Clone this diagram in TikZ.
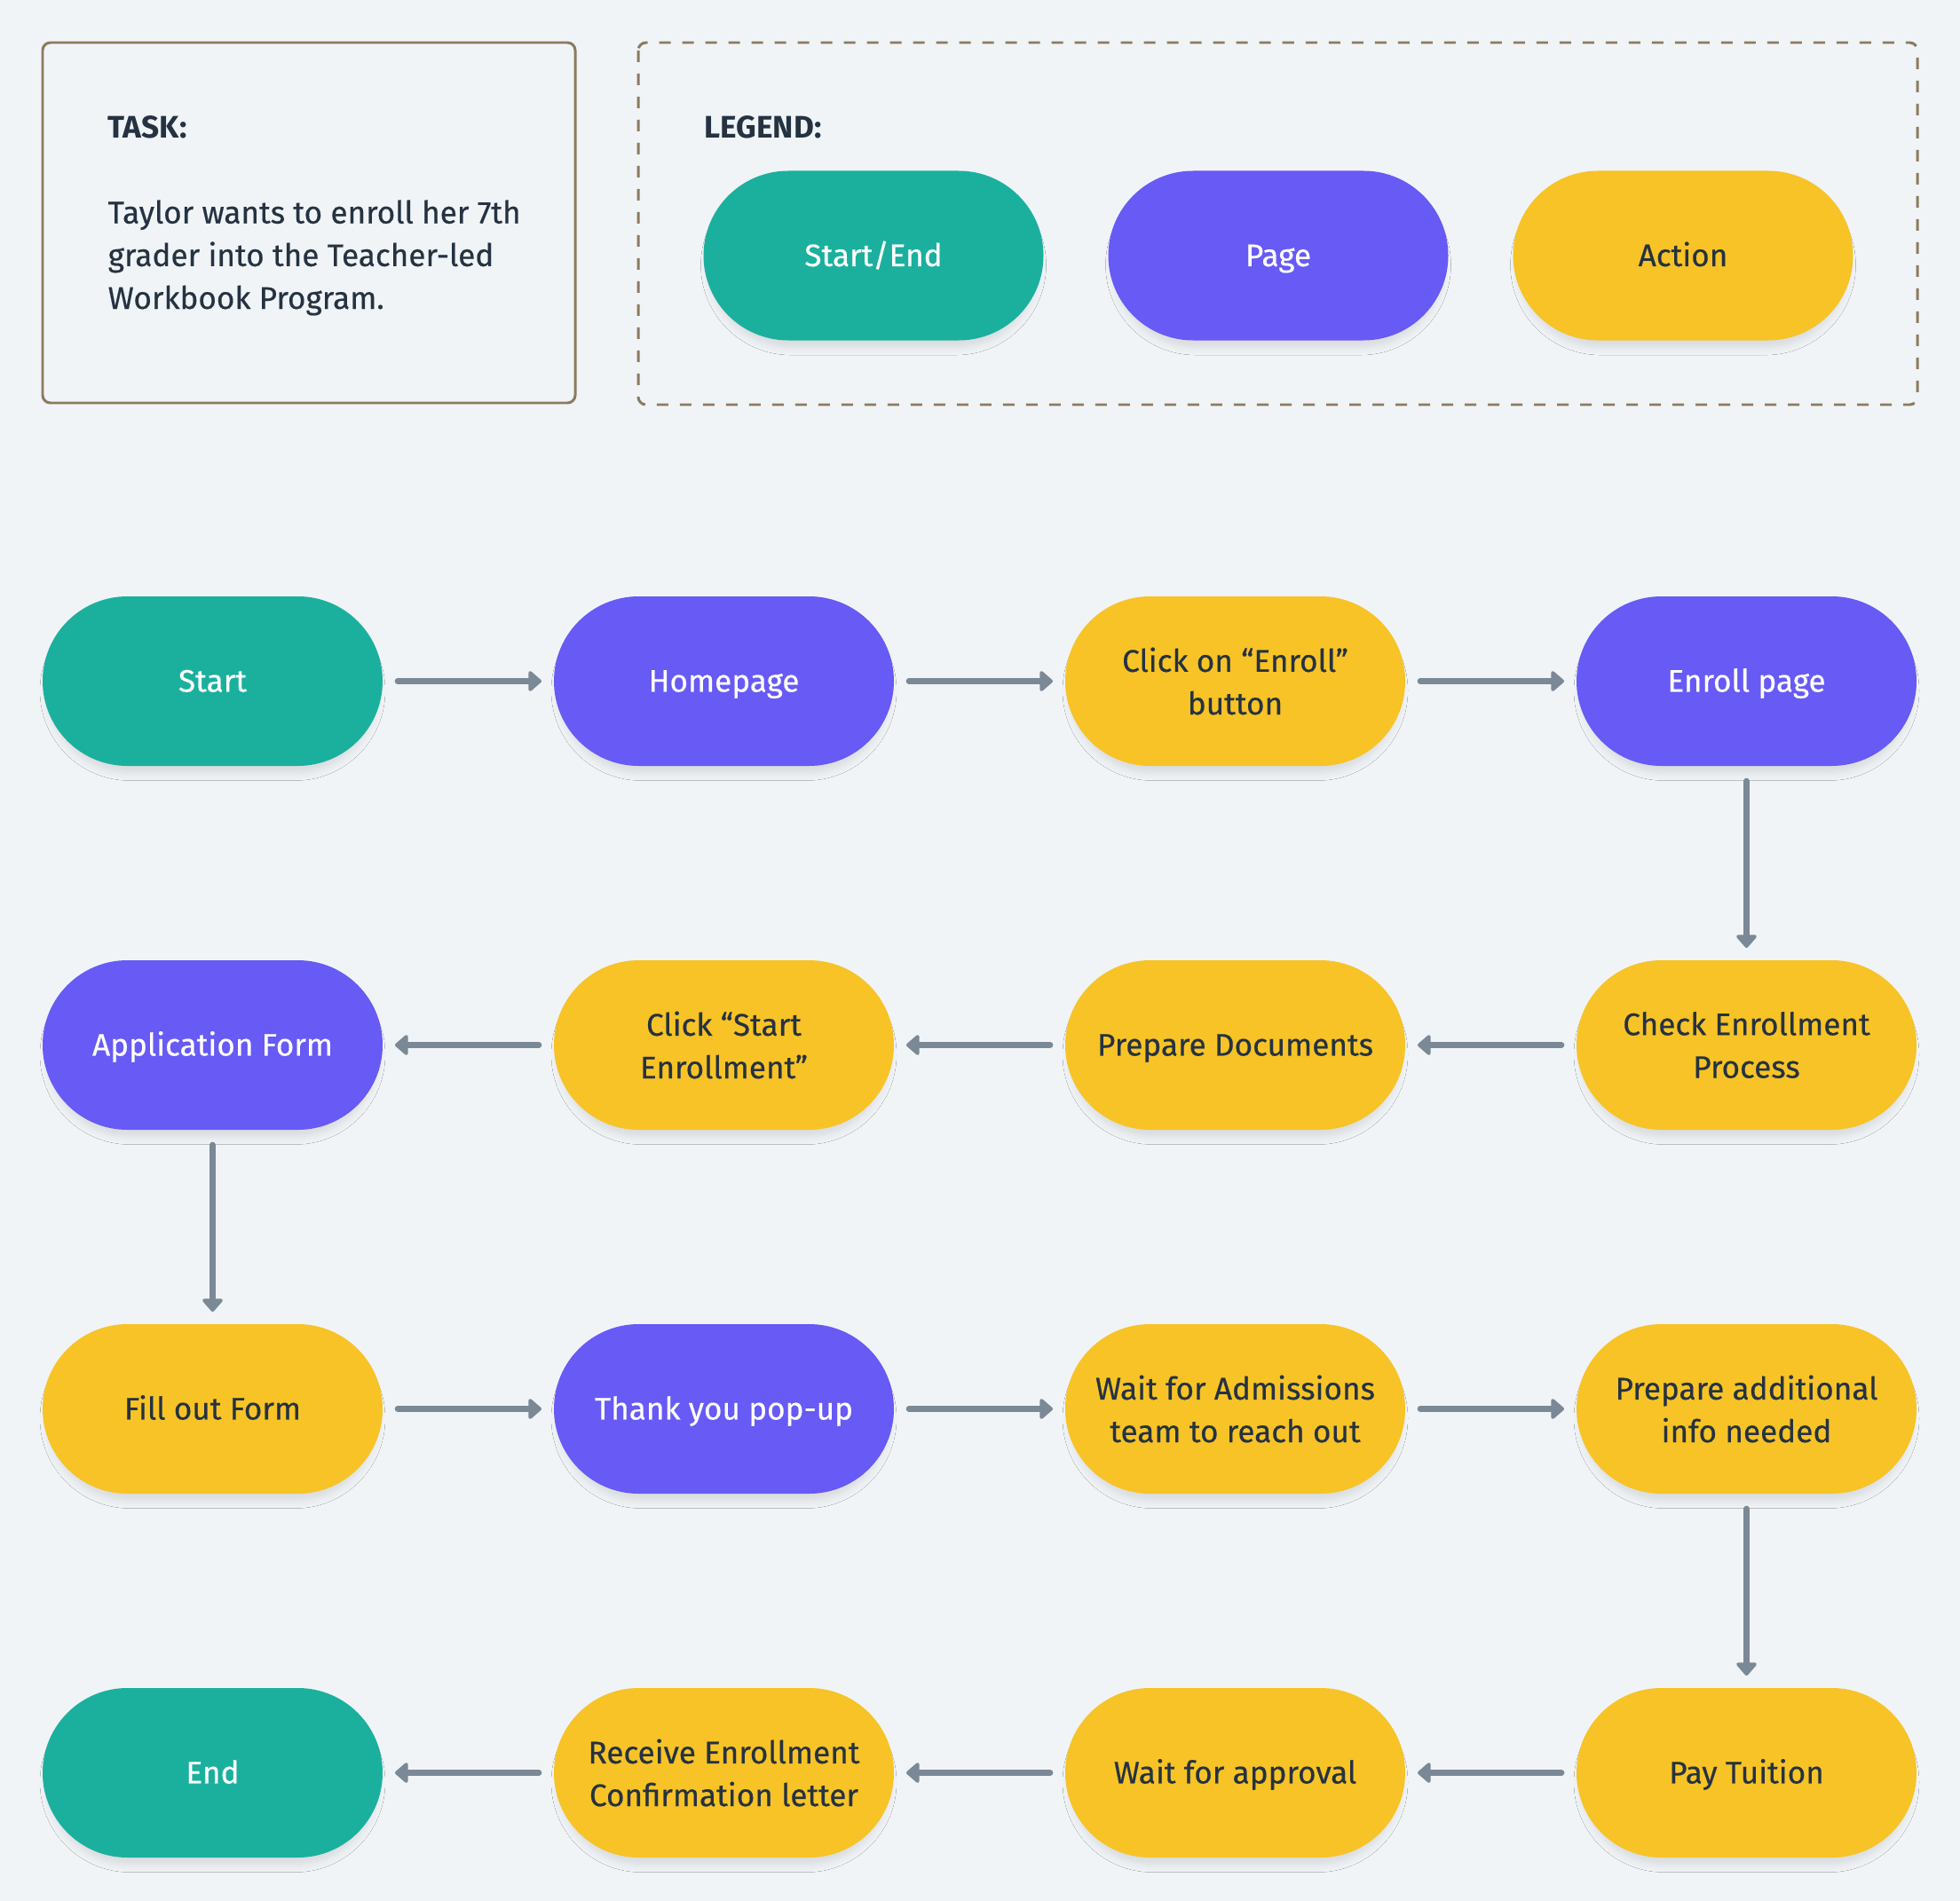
\documentclass[tikz,border=0pt]{standalone}
\usepackage{fontspec}
\setmainfont{Fira Sans}[UprightFeatures={FakeBold=0.4}]
\usetikzlibrary{positioning,arrows.meta,shadows.blur}
\definecolor{bgcol}{HTML}{F0F4F7}
\definecolor{startcol}{HTML}{1BB09E}
\definecolor{pagecol}{HTML}{675AF5}
\definecolor{actioncol}{HTML}{F7C326}
\definecolor{inkcol}{HTML}{253241}
\definecolor{linecol}{HTML}{7B8896}
\definecolor{framecol}{HTML}{8B7B5E}
\begin{document}
\begin{tikzpicture}
[
    every node/.style={font=\fontsize{10}{13.7}\selectfont, text=inkcol},
    pill/.style={rectangle, rounded corners=0.955cm, minimum width=3.83cm, minimum height=1.91cm, inner xsep=2pt, outer sep=0pt, align=center,
        blur shadow={shadow xshift=0pt, shadow yshift=-1.1mm, shadow scale=0.97, shadow blur radius=0.9mm, shadow opacity=10}},
    oneline/.style={text height=8pt, text depth=1.2pt},
    startend/.style={pill, fill=startcol, text=white},
    pagebox/.style={pill, fill=pagecol, text=white},
    actionbox/.style={pill, fill=actioncol},
    heading/.style={anchor=base west, inner sep=0pt, font=\fontsize{10}{13.7}\selectfont\bfseries},
    flow/.style={draw=linecol, line width=1.9pt, line cap=round, -{Triangle[round, length=4.5pt, width=7.5pt]},
        shorten <=0.17cm, shorten >=0.14cm},
    frame/.style={draw=framecol, line width=0.85pt, rounded corners=2.5pt},
    node distance=2.19cm and 1.93cm,
]
\fill[bgcol] (0,0) rectangle (22.08,-21.42);
\useasboundingbox (0,0) rectangle (22.08,-21.42);

% task and legend
\draw[frame] (0.48,-0.48) rectangle (6.48,-4.54);
\node[heading] (tasklabel) at (1.21,-1.56) {TASK:};
\node[anchor=base west, align=left, inner sep=0pt] (tasktext) at (1.21,-3.48)
    {Taylor wants to enroll her 7th\\grader into the Teacher-led\\Workbook Program.};
\draw[frame, dash pattern=on 3.7pt off 3.7pt] (7.19,-0.48) rectangle (21.60,-4.56);
\node[heading] (legendlabel) at (7.93,-1.56) {LEGEND:};
\node[startend, oneline] (keystart) at (9.84,-2.88) {Start/End};
\node[pagebox, oneline] (keypage) at (14.40,-2.88) {Page};
\node[actionbox, oneline] (keyaction) at (18.96,-2.88) {Action};

% flow
\node[startend, oneline] (start) at (2.395,-7.675) {Start};
\node[pagebox, oneline, right=of start] (home) {Homepage};
\node[actionbox, right=of home] (click) {Click on “Enroll”\\button};
\node[pagebox, oneline, right=of click] (enroll) {Enroll page};
\node[actionbox, below=of enroll] (check) {Check Enrollment\\Process};
\node[actionbox, oneline, left=of check] (docs) {Prepare Documents};
\node[actionbox, left=of docs] (startenroll) {Click “Start\\Enrollment”};
\node[pagebox, oneline, left=of startenroll] (form) {Application Form};
\node[actionbox, oneline, below=of form] (fill) {Fill out Form};
\node[pagebox, oneline, right=of fill] (thanks) {Thank you pop-up};
\node[actionbox, right=of thanks] (wait) {Wait for Admissions\\team to reach out};
\node[actionbox, right=of wait] (extra) {Prepare additional\\info needed};
\node[actionbox, oneline, below=of extra] (pay) {Pay Tuition};
\node[actionbox, oneline, left=of pay] (approval) {Wait for approval};
\node[actionbox, left=of approval] (letter) {Receive Enrollment\\Confirmation letter};
\node[startend, oneline, left=of letter] (end) {End};

\foreach \a/\b in {start/home, home/click, click/enroll, enroll/check, check/docs, docs/startenroll,
    startenroll/form, form/fill, fill/thanks, thanks/wait, wait/extra, extra/pay, pay/approval,
    approval/letter, letter/end}
    \draw[flow] (\a) -- (\b);
\end{tikzpicture}
\end{document}
